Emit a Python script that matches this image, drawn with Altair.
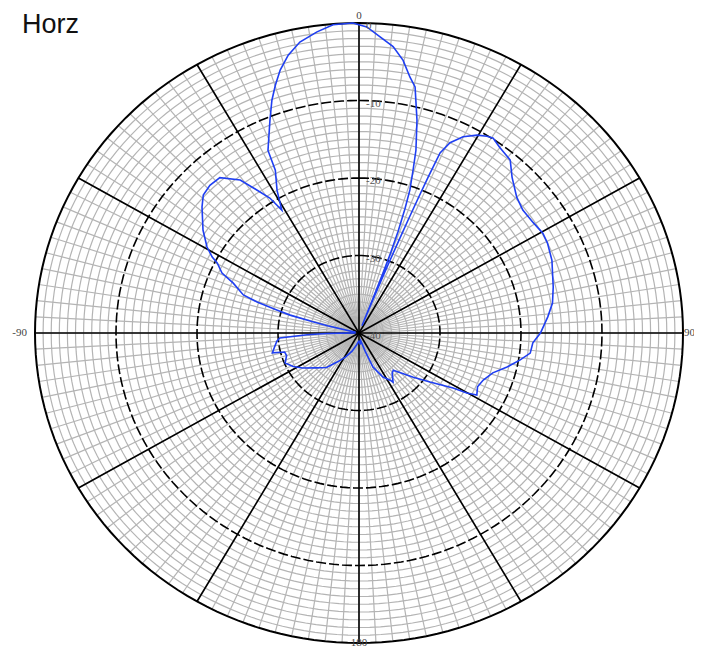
import math
import altair as alt
import pandas as pd

TITLE = "Horz"
DB_MIN, DB_MAX = -40, 0
ring_major = [-10, -20, -30]
ring_fine = [d for d in range(-39, 0) if d not in ring_major]
spoke_major = list(range(0, 360, 30))
spoke_fine = list(range(0, 360, 3))
db_tick_values = [0, -10, -20, -30, -40]
db_tick_text = ["0", "-10", "-20", "-30", "-40"]
angle_tick_values = [0, 90, 180, -90]
angle_tick_text = ["0", "90", "180", "-90"]
angle_tick_r = [40.9, 40.8, 40.0, 41.9]

# measured pattern: angle (deg, clockwise from top) and level (dB)
pattern_angle = [
    -180, -170, -160, -152, -145, -138, -130, -123, -118, -113, -108, -105,
    -103.5, -100, -96, -93.8, -92, -91, -88, -82,
    -77.5, -76.5, -75.8, -74.8, -73.7, -72.4, -71, -67.5, -65.4, -62.7, -61.6,
    -59.4, -55.4, -50, -47.2, -44, -40.6, -36.6, -34.3, -32.3, -31,
    -28.8, -26.2, -25.5, -21.8, -19.7, -17.9, -16.0, -13.7, -11.0, -7.6, -4.6,
    -1.1, 1.4, 3.9, 6.5, 8.8, 10.8, 12.3, 14.6, 16.6, 17.6, 18.8, 19.5, 20.2,
    20.7, 21.0, 21.2, 21.5,
    21.8, 22.0, 22.2, 22.4, 22.6, 22.8, 23.0, 23.3, 24.6, 26.9, 29.7, 31.9,
    33.4, 35.9, 39.9, 43.2, 48, 51.9, 56.5, 60.4, 63.5, 68.5, 76.1, 80.8,
    84.9, 90, 93.4, 97, 99.9, 103.5, 107.3, 111.6, 115.4, 118.8, 120.2, 121.4,
    125.8, 130.4, 138.6, 141.7, 146.4, 147.7, 152.5, 158.6, 162, 168, 175, 180,
]
pattern_db = [
    -39, -38.5, -37.5, -36.5, -35.5, -34, -33, -31.7, -30.8, -30.1, -30.6, -30.5,
    -29.0, -29.4, -29.8, -30.2, -33.6, -36, -39.5, -39.5,
    -39.5, -36, -34, -31.2, -29.5, -26.8, -24.9, -23.2, -21.4, -20.3, -19.4,
    -18.2, -16.6, -14.7, -13.8, -13.5, -13.6, -15.4, -17.7, -19.4, -21.5,
    -19, -16.6, -13.9, -10.4, -8.1, -6.4, -4.7, -3.1, -1.75, -0.8, -0.1,
    0.0, -0.5, -1.7, -2.8, -4.4, -6.4, -7.5, -11.6, -15.4, -17.9, -20.5, -23, -26,
    -29, -32, -35, -39,
    -36, -33, -30, -27, -24, -21, -18, -14.7, -13.0, -11.6, -10.6, -10.1,
    -9.9, -10.4, -10.9, -12.4, -13.8, -14.3, -14.2, -13.9, -14.0, -14.4, -15.3, -15.8,
    -16.6, -17.6, -18.5, -18.7, -19.8, -21.2, -22.7, -23.5, -23.8, -23.4, -24.6, -26.4,
    -29.2, -31.2, -33.6, -33.4, -32.4, -32.8, -33.6, -35.3, -37.5, -39, -38.5, -39,
]
assert len(pattern_angle) == len(pattern_db)

R = DB_MAX - DB_MIN


def polar(angle_deg, db):
    r = db - DB_MIN
    a = math.radians(angle_deg)
    return r * math.sin(a), r * math.cos(a)


def ring_rows(levels):
    rows = []
    for lv in levels:
        for t in range(0, 361, 2):
            x, y = polar(t, lv)
            rows.append({"ring": lv, "t": t, "x": x, "y": y})
    return pd.DataFrame(rows)


def spoke_rows(angles):
    rows = []
    for a in angles:
        x2, y2 = polar(a, DB_MAX)
        rows.append({"a": a, "x": 0.0, "y": 0.0, "x2": x2, "y2": y2})
    return pd.DataFrame(rows)


xs = alt.Scale(domain=[-R, R], nice=False, zero=False)
ys = alt.Scale(domain=[-R, R], nice=False, zero=False)
X = alt.X("x:Q", scale=xs, axis=None)
Y = alt.Y("y:Q", scale=ys, axis=None)

GRAY = "#b4b4b4"

fine_rings = alt.Chart(ring_rows(ring_fine)).mark_line(
    color=GRAY, strokeWidth=1.2
).encode(x=X, y=Y, detail="ring:N", order="t:Q")

fine_spokes = alt.Chart(spoke_rows(spoke_fine)).mark_rule(
    color=GRAY, strokeWidth=1.2
).encode(x=X, y=Y, x2="x2:Q", y2="y2:Q")

major_rings = alt.Chart(ring_rows(ring_major)).mark_line(
    color="black", strokeWidth=1.6, strokeDash=[10, 3]
).encode(x=X, y=Y, detail="ring:N", order="t:Q")

outer_ring = alt.Chart(ring_rows([DB_MAX])).mark_line(
    color="black", strokeWidth=2
).encode(x=X, y=Y, detail="ring:N", order="t:Q")

major_spokes = alt.Chart(spoke_rows(spoke_major)).mark_rule(
    color="black", strokeWidth=1.6
).encode(x=X, y=Y, x2="x2:Q", y2="y2:Q")

prow = []
for i, (a, d) in enumerate(zip(pattern_angle + pattern_angle[:1], pattern_db + pattern_db[:1])):
    x, y = polar(a, d)
    prow.append({"i": i, "angle": a, "db": d, "x": x, "y": y})
pattern = alt.Chart(pd.DataFrame(prow)).mark_line(
    color="#1f3ff2", strokeWidth=1.6
).encode(x=X, y=Y, order="i:Q")

arow = []
for a, t, r in zip(angle_tick_values, angle_tick_text, angle_tick_r):
    x, y = polar(a, DB_MIN + r)
    arow.append({"x": x, "y": y, "label": t})
angle_labels = alt.Chart(pd.DataFrame(arow)).mark_text(
    font="Liberation Serif", fontSize=11, color="#444", align="center", baseline="middle"
).encode(x=X, y=Y, text="label:N")

drow = []
for v, t in zip(db_tick_values, db_tick_text):
    x, y = polar(0, v)
    drow.append({"x": x, "y": y, "label": t})
db_labels = alt.Chart(pd.DataFrame(drow)).mark_text(
    font="Liberation Serif", fontSize=11, color="#555", align="left", baseline="middle",
    dx=7, dy=3
).encode(x=X, y=Y, text="label:N")

title = alt.Chart(pd.DataFrame({"t": [TITLE]})).mark_text(
    font="Liberation Sans", fontSize=27, color="#111", align="left", baseline="alphabetic"
).encode(text="t:N", x=alt.value(-13), y=alt.value(10))

chart = alt.layer(
    fine_rings, fine_spokes, major_rings, outer_ring, major_spokes,
    pattern, angle_labels, db_labels, title
).properties(
    width=648, height=620,
    padding={"left": 27, "top": 15, "right": 11, "bottom": 5},
    autosize=alt.AutoSizeParams(type="none"),
).configure_view(stroke=None)

chart.save("out.html", embed_options={"renderer": "svg", "actions": False})
